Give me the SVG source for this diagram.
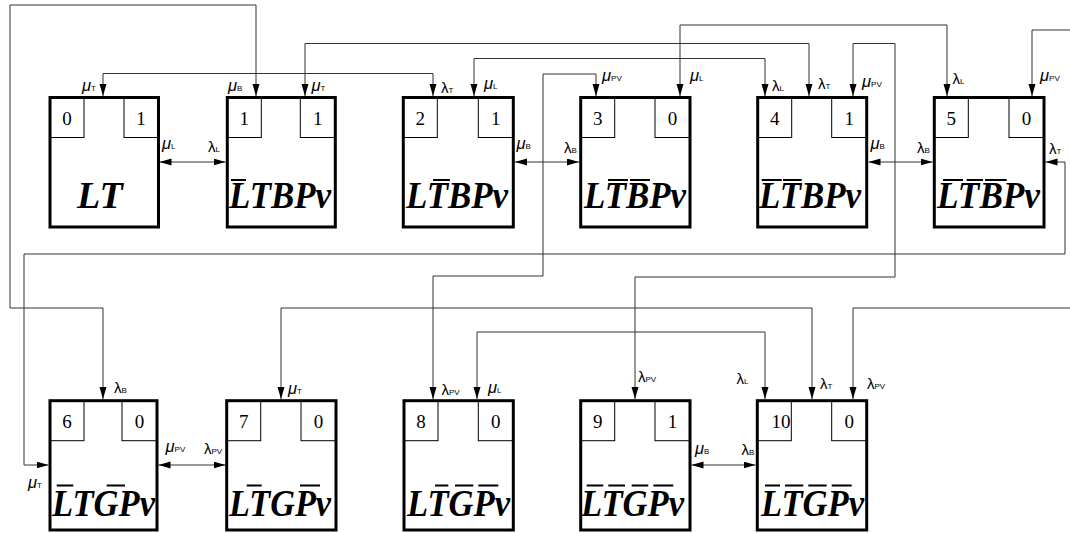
<svg xmlns="http://www.w3.org/2000/svg" width="1070" height="533" viewBox="0 0 1070 533">
<defs>
<marker id="ah" markerUnits="userSpaceOnUse" markerWidth="13" markerHeight="8" refX="12" refY="3.5" orient="auto-start-reverse" viewBox="0 0 13 8">
<path d="M0,0 L12,3.5 L0,7 z" fill="#000"/>
</marker>
<style>
.box{fill:#fff;stroke:#000;stroke-width:3}
.sb{fill:none;stroke:#000;stroke-width:1}
.num{font-family:"Liberation Serif",serif;font-size:19px;text-anchor:middle;fill:#000}
.big{font-family:"Liberation Serif",serif;font-size:38px;font-weight:bold;font-style:italic;fill:#000}
.bar{stroke:#000;stroke-width:2}
.c{fill:none;stroke:#333;stroke-width:1;marker-start:url(#ah);marker-end:url(#ah)}
.c1{fill:none;stroke:#333;stroke-width:1;marker-start:url(#ah)}
.lb{font-family:"Liberation Sans",sans-serif;font-size:15px;fill:#000}
.mu{font-style:italic;font-size:16.5px}
.s{font-size:8px;font-style:normal}
</style>
</defs>

<g id="connectors">
<path class="c" d="M256,96 V5 H10 V308 H103 V399"/>
<path class="c" d="M103,96 V73.5 H433 V96"/>
<path class="c" d="M305,96 V43.5 H809 V96"/>
<path class="c" d="M680,96 V25 H947 V96"/>
<path class="c" d="M474,96 V58.5 H765 V96"/>
<path class="c" d="M596,96 V74 H543 V276 H433 V399"/>
<path class="c" d="M853,96 V43.5 H895 V277 H635 V399"/>
<path class="c1" d="M1032,96 V30 H1070"/>
<path class="c" d="M1045.5,162 H1065 V254 H24 V465 H48.5"/>
<path class="c" d="M281,399 V308 H812 V399"/>
<path class="c1" d="M853,399 V308 H1070"/>
<path class="c" d="M477,399 V332 H765 V399"/>
<path class="c" d="M159.5,162 H225.5"/>
<path class="c" d="M515,162 H579"/>
<path class="c" d="M868.5,162 H932.5"/>
<path class="c" d="M158.5,465 H225.5"/>
<path class="c" d="M691.5,465 H755.5"/>
</g>

<g id="node0">
<rect class="box" x="50" y="97.5" width="108.5" height="129.5"/>
<rect class="sb" x="50" y="97.5" width="34" height="40"/>
<rect class="sb" x="124" y="97.5" width="34.5" height="40"/>
<text class="num" x="67" y="125">0</text>
<text class="num" x="141" y="125">1</text>
<text class="big" x="77" y="208">LT</text>
</g>

<g id="node1">
<rect class="box" x="227.3" y="97.5" width="108" height="129.5"/>
<rect class="sb" x="227.3" y="97.5" width="34" height="40"/>
<rect class="sb" x="300.3" y="97.5" width="35" height="40"/>
<text class="num" x="244.3" y="125">1</text>
<text class="num" x="317.8" y="125">1</text>
<text class="big" x="229" y="208" textLength="102" lengthAdjust="spacingAndGlyphs">LTBPv</text>
<line class="bar" x1="231" y1="180" x2="246" y2="180"/>
</g>

<g id="node2">
<rect class="box" x="403.3" y="97.5" width="110" height="129.5"/>
<rect class="sb" x="403.3" y="97.5" width="34" height="40"/>
<rect class="sb" x="478.3" y="97.5" width="35" height="40"/>
<text class="num" x="420.3" y="125">2</text>
<text class="num" x="495.8" y="125">1</text>
<text class="big" x="406" y="208" textLength="102" lengthAdjust="spacingAndGlyphs">LTBPv</text>
<line class="bar" x1="433" y1="180" x2="450" y2="180"/>
</g>

<g id="node3">
<rect class="box" x="580.7" y="97.5" width="109.3" height="129.5"/>
<rect class="sb" x="580.7" y="97.5" width="34" height="40"/>
<rect class="sb" x="655" y="97.5" width="35" height="40"/>
<text class="num" x="597.7" y="125">3</text>
<text class="num" x="672.5" y="125">0</text>
<text class="big" x="584" y="208" textLength="102" lengthAdjust="spacingAndGlyphs">LTBPv</text>
<line class="bar" x1="608" y1="180" x2="628" y2="180"/>
<line class="bar" x1="630" y1="180" x2="650" y2="180"/>
</g>

<g id="node4">
<rect class="box" x="757.7" y="97.5" width="109" height="129.5"/>
<rect class="sb" x="757.7" y="97.5" width="34" height="40"/>
<rect class="sb" x="831.7" y="97.5" width="35" height="40"/>
<text class="num" x="774.7" y="125">4</text>
<text class="num" x="849.2" y="125">1</text>
<text class="big" x="759" y="208" textLength="102" lengthAdjust="spacingAndGlyphs">LTBPv</text>
<line class="bar" x1="761.7" y1="180" x2="781.7" y2="180"/>
<line class="bar" x1="783" y1="180" x2="801.7" y2="180"/>
</g>

<g id="node5">
<rect class="box" x="934.3" y="97.5" width="109.7" height="129.5"/>
<rect class="sb" x="934.3" y="97.5" width="34" height="40"/>
<rect class="sb" x="1009" y="97.5" width="35" height="40"/>
<text class="num" x="951.3" y="125">5</text>
<text class="num" x="1026.5" y="125">0</text>
<text class="big" x="937" y="208" textLength="103" lengthAdjust="spacingAndGlyphs">LTBPv</text>
<line class="bar" x1="943" y1="180" x2="963" y2="180"/>
<line class="bar" x1="966.7" y1="180" x2="983" y2="180"/>
<line class="bar" x1="985" y1="180" x2="1006.7" y2="180"/>
</g>

<g id="node6">
<rect class="box" x="50" y="400.7" width="107" height="129.3"/>
<rect class="sb" x="50" y="400.7" width="34" height="40"/>
<rect class="sb" x="122" y="400.7" width="35" height="40"/>
<text class="num" x="67" y="428">6</text>
<text class="num" x="139.5" y="428">0</text>
<text class="big" x="52" y="516" textLength="103" lengthAdjust="spacingAndGlyphs">LTGPv</text>
<line class="bar" x1="56.7" y1="485.5" x2="73.3" y2="485.5"/>
<line class="bar" x1="106.7" y1="485.5" x2="125" y2="485.5"/>
</g>

<g id="node7">
<rect class="box" x="226.7" y="400.7" width="109.3" height="129.3"/>
<rect class="sb" x="226.7" y="400.7" width="34" height="40"/>
<rect class="sb" x="301" y="400.7" width="35" height="40"/>
<text class="num" x="243.7" y="428">7</text>
<text class="num" x="318.5" y="428">0</text>
<text class="big" x="229" y="516" textLength="102" lengthAdjust="spacingAndGlyphs">LTGPv</text>
<line class="bar" x1="246.7" y1="485.5" x2="261.7" y2="485.5"/>
<line class="bar" x1="300" y1="485.5" x2="320" y2="485.5"/>
</g>

<g id="node8">
<rect class="box" x="404" y="400.7" width="109.3" height="129.3"/>
<rect class="sb" x="404" y="400.7" width="34" height="40"/>
<rect class="sb" x="478.3" y="400.7" width="35" height="40"/>
<text class="num" x="421" y="428">8</text>
<text class="num" x="495.8" y="428">0</text>
<text class="big" x="407" y="516" textLength="103" lengthAdjust="spacingAndGlyphs">LTGPv</text>
<line class="bar" x1="435" y1="485.5" x2="448.3" y2="485.5"/>
<line class="bar" x1="455" y1="485.5" x2="473.3" y2="485.5"/>
<line class="bar" x1="478.3" y1="485.5" x2="498.3" y2="485.5"/>
</g>

<g id="node9">
<rect class="box" x="580.7" y="400.7" width="109.3" height="129.3"/>
<rect class="sb" x="580.7" y="400.7" width="34" height="40"/>
<rect class="sb" x="655" y="400.7" width="35" height="40"/>
<text class="num" x="597.7" y="428">9</text>
<text class="num" x="672.5" y="428">1</text>
<text class="big" x="581" y="516" textLength="103" lengthAdjust="spacingAndGlyphs">LTGPv</text>
<line class="bar" x1="586.7" y1="485.5" x2="603.3" y2="485.5"/>
<line class="bar" x1="608.3" y1="485.5" x2="625" y2="485.5"/>
<line class="bar" x1="631.7" y1="485.5" x2="648.3" y2="485.5"/>
<line class="bar" x1="653.3" y1="485.5" x2="673.3" y2="485.5"/>
</g>

<g id="node10">
<rect class="box" x="757.3" y="400.7" width="109.4" height="129.3"/>
<rect class="sb" x="757.3" y="400.7" width="34" height="40"/>
<rect class="sb" x="831.7" y="400.7" width="35" height="40"/>
<text class="num" x="790.5" y="428" style="text-anchor:end">10</text>
<text class="num" x="849.2" y="428">0</text>
<text class="big" x="761" y="516" textLength="103" lengthAdjust="spacingAndGlyphs">LTGPv</text>
<line class="bar" x1="765" y1="485.5" x2="780" y2="485.5"/>
<line class="bar" x1="785" y1="485.5" x2="803.3" y2="485.5"/>
<line class="bar" x1="808.3" y1="485.5" x2="826.7" y2="485.5"/>
<line class="bar" x1="831.7" y1="485.5" x2="851.7" y2="485.5"/>
</g>

<g id="labels" class="lb">
<text x="82" y="90.5"><tspan class="mu">μ</tspan><tspan class="s">T</tspan></text>
<text x="228" y="90.5"><tspan class="mu">μ</tspan><tspan class="s">B</tspan></text>
<text x="311.5" y="90.5"><tspan class="mu">μ</tspan><tspan class="s">T</tspan></text>
<text x="162" y="149"><tspan class="mu">μ</tspan><tspan class="s">L</tspan></text>
<text x="208" y="152">λ<tspan class="s">L</tspan></text>
<text x="441" y="93">λ<tspan class="s">T</tspan></text>
<text x="484" y="89"><tspan class="mu">μ</tspan><tspan class="s">L</tspan></text>
<text x="516.5" y="149"><tspan class="mu">μ</tspan><tspan class="s">B</tspan></text>
<text x="564" y="153">λ<tspan class="s">B</tspan></text>
<text x="602" y="80.5"><tspan class="mu">μ</tspan><tspan class="s">PV</tspan></text>
<text x="690" y="80.5"><tspan class="mu">μ</tspan><tspan class="s">L</tspan></text>
<text x="772" y="90.5">λ<tspan class="s">L</tspan></text>
<text x="818" y="89">λ<tspan class="s">T</tspan></text>
<text x="862" y="86.5"><tspan class="mu">μ</tspan><tspan class="s">PV</tspan></text>
<text x="870.5" y="149"><tspan class="mu">μ</tspan><tspan class="s">B</tspan></text>
<text x="917" y="153">λ<tspan class="s">B</tspan></text>
<text x="952.5" y="84">λ<tspan class="s">L</tspan></text>
<text x="1040" y="80.5"><tspan class="mu">μ</tspan><tspan class="s">PV</tspan></text>
<text x="1049" y="153.5">λ<tspan class="s">T</tspan></text>
<text x="114" y="393">λ<tspan class="s">B</tspan></text>
<text x="165.5" y="451.5"><tspan class="mu">μ</tspan><tspan class="s">PV</tspan></text>
<text x="204" y="454">λ<tspan class="s">PV</tspan></text>
<text x="28" y="488"><tspan class="mu">μ</tspan><tspan class="s">T</tspan></text>
<text x="288" y="394"><tspan class="mu">μ</tspan><tspan class="s">T</tspan></text>
<text x="441.5" y="395">λ<tspan class="s">PV</tspan></text>
<text x="488" y="392.5"><tspan class="mu">μ</tspan><tspan class="s">L</tspan></text>
<text x="638" y="381.5">λ<tspan class="s">PV</tspan></text>
<text x="695" y="454"><tspan class="mu">μ</tspan><tspan class="s">B</tspan></text>
<text x="741.5" y="455">λ<tspan class="s">B</tspan></text>
<text x="736.5" y="384">λ<tspan class="s">L</tspan></text>
<text x="820" y="389">λ<tspan class="s">T</tspan></text>
<text x="867" y="389">λ<tspan class="s">PV</tspan></text>
</g>
</svg>
